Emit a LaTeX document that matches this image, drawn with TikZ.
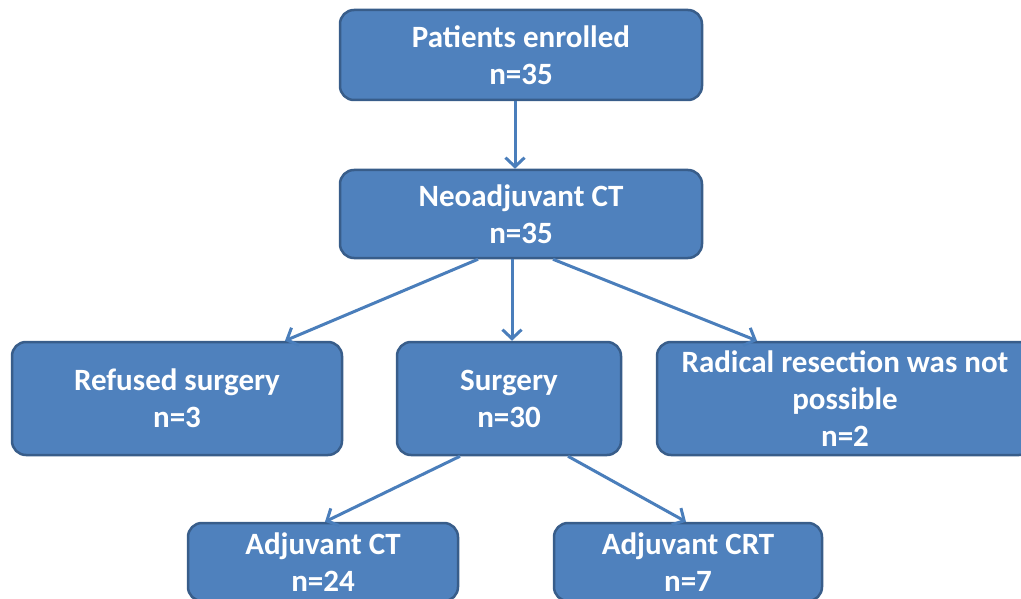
\documentclass[tikz,border=0pt]{standalone}
\usepackage{fontspec}
\setmainfont{Carlito}
\usetikzlibrary{
    arrows.meta,
    positioning
}
\definecolor{boxfill}{HTML}{4F81BD}
\definecolor{boxline}{HTML}{385D8A}
\definecolor{arrowline}{HTML}{4A7EBB}
\tikzset{
    flowbox/.style={draw=boxline, fill=boxfill, line width=2.5pt, rounded corners=14pt,
        text=white, align=center, font=\fontsize{31}{37}\selectfont\bfseries, inner sep=0pt},
    flowarrow/.style={draw=arrowline, line width=3pt,
        -{Straight Barb[length=9pt, width=19pt, line width=3pt]}}
}

\begin{document}
\begin{tikzpicture}[x=1pt, y=-1pt]
                        \useasboundingbox (0, 0) rectangle (1021, 599);

                        \node[flowbox, minimum width=362pt, minimum height=90pt] (enrolled) at (521, 55) {Patients enrolled\\n=35};
                        \node[flowbox, minimum width=362pt, minimum height=88pt] (neo) at (521, 214) {Neoadjuvant CT\\n=35};

                        \node[flowbox, minimum width=330pt, minimum height=113pt] (refused) at (177, 398.5) {Refused surgery\\n=3};
                        \node[flowbox, minimum width=224pt, minimum height=113pt] (surgery) at (509, 398.5) {Surgery\\n=30};
                        \node[flowbox, minimum width=376pt, minimum height=113pt] (radical) at (845, 398.5) {Radical resection was not\\possible\\n=2};

                        \node[flowbox, minimum width=270pt, minimum height=78pt] (adjct) at (323, 562) {Adjuvant CT\\n=24};
                        \node[flowbox, minimum width=268pt, minimum height=78pt] (adjcrt) at (688, 562) {Adjuvant CRT\\n=7};

                        \draw[flowarrow] ([xshift=-6pt]enrolled.south) -- ([xshift=-6pt]neo.north);
                        \draw[flowarrow] ([xshift=-43pt]neo.south) -- ([xshift=108pt]refused.north);
                        \draw[flowarrow] ([xshift=-9pt]neo.south) -- ([xshift=3pt]surgery.north);
                        \draw[flowarrow] ([xshift=32pt]neo.south) -- ([xshift=-88pt]radical.north);
                        \draw[flowarrow] ([xshift=-49pt]surgery.south) -- ([xshift=2pt]adjct.north);
                        \draw[flowarrow] ([xshift=59pt]surgery.south) -- ([xshift=-2pt]adjcrt.north);
                    \end{tikzpicture}
\end{document}
